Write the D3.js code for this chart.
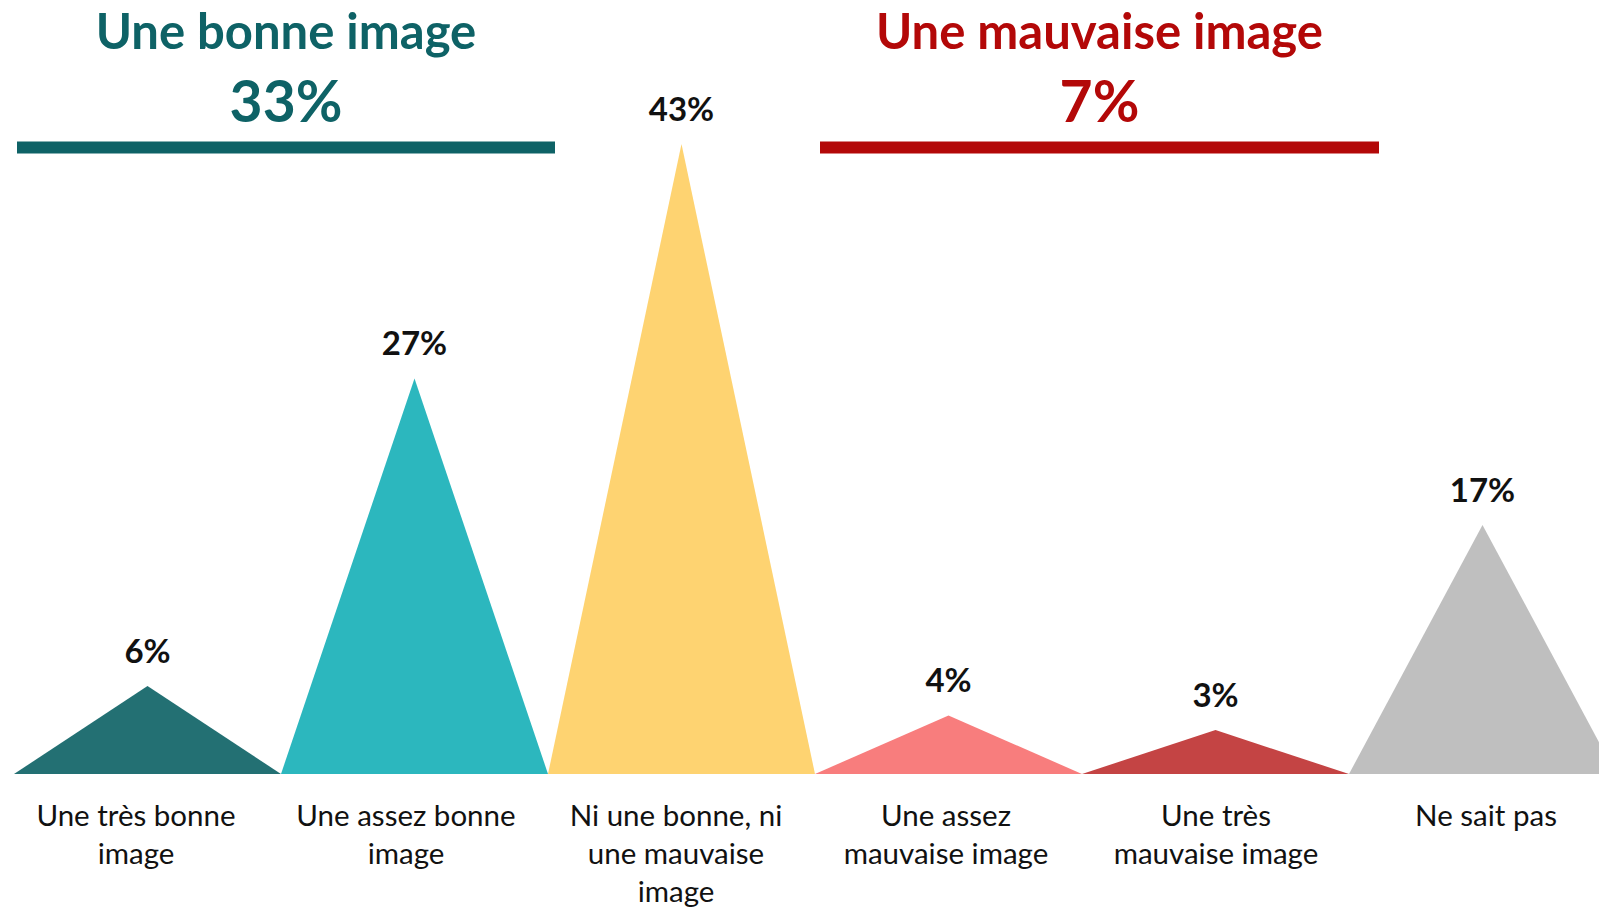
<!DOCTYPE html>
<html>
<head>
<meta charset="utf-8">
<script src="https://cdn.jsdelivr.net/npm/d3@7"></script>
<style>
  html, body { margin: 0; padding: 0; background: #fff; overflow: hidden; }
  svg { display: block; font-family: Lato, "Open Sans", sans-serif; }
</style>
</head>
<body>
<svg id="chart" width="1599" height="909"></svg>
<script>
// answers and shares (%)
const categories = ["Une très bonne image", "Une assez bonne image", "Ni une bonne, ni une mauvaise image",
                    "Une assez mauvaise image", "Une très mauvaise image", "Ne sait pas"];
const labelLines = [["Une très bonne", "image"], ["Une assez bonne", "image"], ["Ni une bonne, ni", "une mauvaise", "image"],
                    ["Une assez", "mauvaise image"], ["Une très", "mauvaise image"], ["Ne sait pas"]];
const values = [6, 27, 43, 4, 3, 17];
const colors = ["#237073", "#2cb7be", "#fed371", "#f87d7d", "#c44444", "#bfbfbf"];

// grouped totals shown at the top
const groupTitles = ["Une bonne image", "Une mauvaise image"];
const groupValues = [33, 7];
const groupColors = ["#0e6266", "#b30808"];
const groupMembers = [[0, 1], [3, 4]];

const svg = d3.select("#chart");
const baseY = 774;
const bw = 267;

// triangles sit on one band scale, the text labels on a slightly wider one
const x = d3.scaleBand()
    .domain(categories)
    .range([14, 14 + bw * categories.length])
    .padding(0);

const xLabel = d3.scaleBand()
    .domain(categories)
    .range([1, 1 + 270 * categories.length])
    .padding(0);

const y = d3.scaleLinear()
    .domain([0, d3.max(values)])
    .range([baseY, 144]);

const data = categories.map((c, i) => ({ cat: c, value: values[i], color: colors[i], lines: labelLines[i] }));

// triangles
svg.append("g").selectAll("path")
  .data(data)
  .enter().append("path")
    .attr("d", function(d) {
      let x0 = x(d.cat), x1 = x0 + x.bandwidth(), xm = x0 + x.bandwidth() / 2;
      return "M" + x0 + "," + y(0) + "L" + xm + "," + y(d.value) + "L" + x1 + "," + y(0) + "Z";
    })
    .style("fill", d => d.color);

// value labels
svg.append("g").selectAll("text")
  .data(data)
  .enter().append("text")
    .attr("x", d => x(d.cat) + x.bandwidth() / 2)
    .attr("y", d => y(d.value) - 23)
    .attr("text-anchor", "middle")
    .attr("font-size", 33)
    .attr("font-weight", "700")
    .attr("fill", "#111")
    .text(d => d.value + "%");

// category labels
let cat = svg.append("g").selectAll("text")
  .data(data)
  .enter().append("text")
    .attr("text-anchor", "middle")
    .attr("font-size", 29.5)
    .attr("fill", "#111");

cat.selectAll("tspan")
  .data(d => d.lines.map(l => ({ l: l, cx: xLabel(d.cat) + xLabel.bandwidth() / 2 })))
  .enter().append("tspan")
    .attr("x", d => d.cx)
    .attr("y", (d, i) => 826 + i * 38)
    .text(d => d.l);

// group headers
const padL = [3, 5], padR = [7, 30];
groupTitles.forEach(function(t, i) {
  let first = groupMembers[i][0], last = groupMembers[i][groupMembers[i].length - 1];
  let x0 = x(categories[first]) + padL[i];
  let x1 = x(categories[last]) + x.bandwidth() + padR[i];
  let cx = (x0 + x1) / 2;

  svg.append("text")
      .attr("x", cx)
      .attr("y", 49)
      .attr("text-anchor", "middle")
      .attr("font-size", 49)
      .attr("font-weight", "700")
      .attr("fill", groupColors[i])
      .text(t);

  svg.append("text")
      .attr("x", cx)
      .attr("y", 122)
      .attr("text-anchor", "middle")
      .attr("font-size", 57)
      .attr("font-weight", "700")
      .attr("fill", groupColors[i])
      .text(groupValues[i] + "%");

  svg.append("rect")
      .attr("x", x0)
      .attr("y", 141.5)
      .attr("width", x1 - x0)
      .attr("height", 12)
      .attr("fill", groupColors[i]);
});
</script>
</body>
</html>
